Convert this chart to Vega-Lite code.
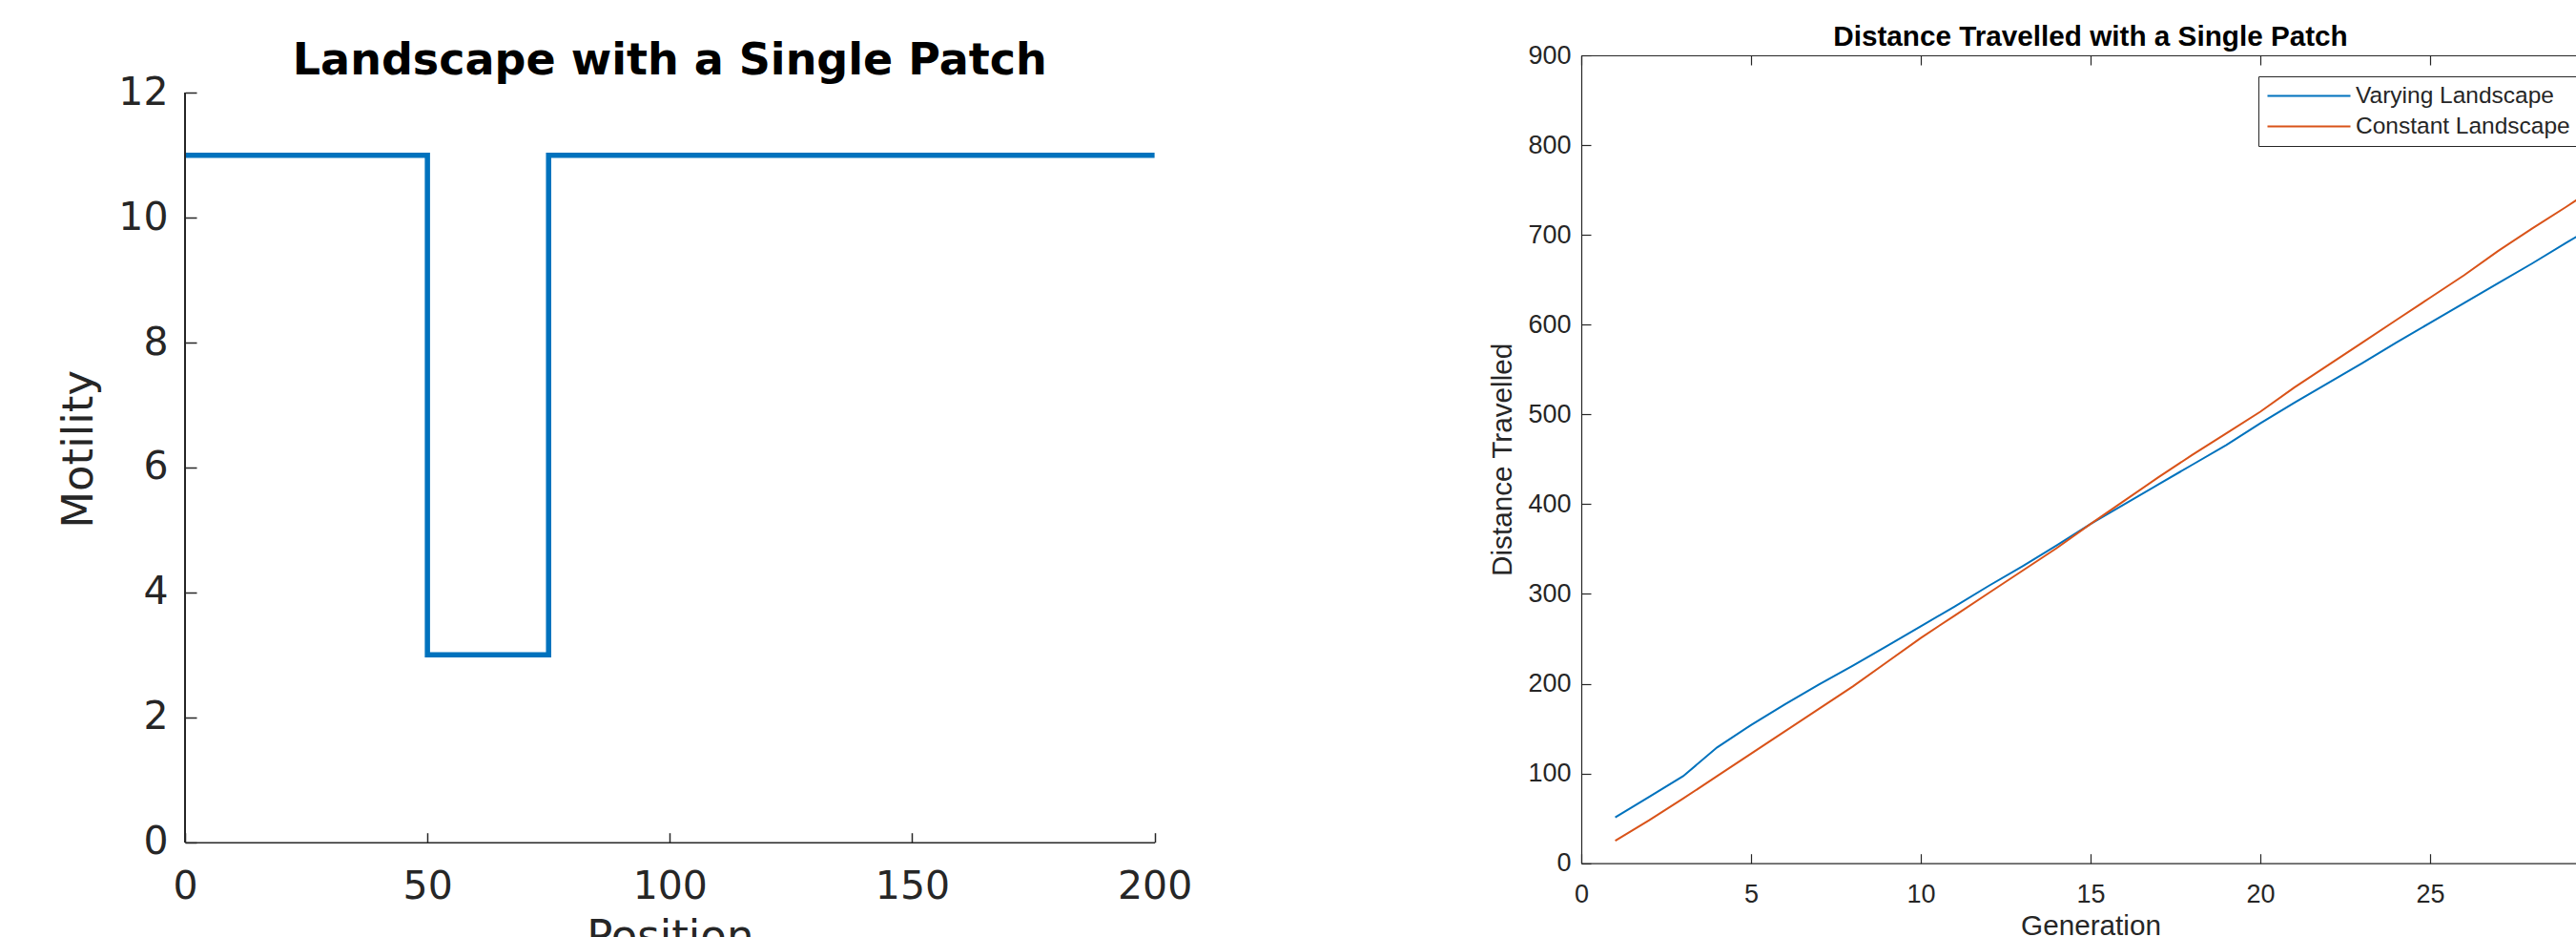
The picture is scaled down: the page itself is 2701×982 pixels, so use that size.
{
  "$schema": "https://vega.github.io/schema/vega-lite/v6.json",
  "background": "white",
  "padding": {"left": 60, "top": 24, "right": 0, "bottom": 0},
  "spacing": 310,
  "resolve": {"scale": {"color": "independent"}, "legend": {"color": "independent"}},
  "config": {
    "view": {"stroke": null},
    "axis": {"grid": false, "labelFlush": false, "labelOverlap": false}
  },
  "hconcat": [
    {
      "width": 1016.6,
      "height": 824.7,
      "title": {
        "text": "Landscape with a Single Patch",
        "font": "DejaVu Sans",
        "fontSize": 46,
        "fontWeight": "bold",
        "color": "#000000",
        "frame": "group",
        "anchor": "middle",
        "baseline": "alphabetic",
        "offset": -65.7
      },
      "data": {
        "values": [
          {"i": 0, "position": 0, "motility": 11},
          {"i": 1, "position": 50, "motility": 11},
          {"i": 2, "position": 50, "motility": 3},
          {"i": 3, "position": 75, "motility": 3},
          {"i": 4, "position": 75, "motility": 11},
          {"i": 5, "position": 200, "motility": 11}
        ]
      },
      "layer": [
        {
          "mark": {"type": "line", "color": "#0072BD", "strokeWidth": 5.5, "strokeJoin": "miter", "strokeCap": "butt"},
          "encoding": {
            "x": {
              "field": "position",
              "type": "quantitative",
              "scale": {"domain": [0, 200], "nice": false},
              "axis": {
                "orient": "bottom",
                "values": [0, 50, 100, 150, 200],
                "format": "d",
                "title": "Position",
                "tickSize": -10,
                "tickColor": "#262626",
                "tickWidth": 1.5,
                "domainColor": "#262626",
                "domainWidth": 1.5,
                "labelFont": "DejaVu Sans",
                "labelFontSize": 41,
                "labelColor": "#262626",
                "labelPadding": 36.5,
                "titleFont": "DejaVu Sans",
                "titleFontSize": 45,
                "titleFontWeight": "normal",
                "titleColor": "#262626",
                "titlePadding": 10.6
              }
            },
            "y": {
              "field": "motility",
              "type": "quantitative",
              "scale": {"domain": [0, 12.6], "nice": false},
              "axis": {
                "values": [0, 2, 4, 6, 8, 10, 12],
                "format": "d",
                "title": "Motility",
                "domain": false,
                "tickSize": -12,
                "tickColor": "#262626",
                "tickWidth": 1.5,
                "labelFont": "DejaVu Sans",
                "labelFontSize": 41,
                "labelColor": "#262626",
                "labelPadding": 30,
                "titleFont": "DejaVu Sans",
                "titleFontSize": 45,
                "titleFontWeight": "normal",
                "titleColor": "#262626",
                "titlePadding": 17.9
              }
            },
            "order": {"field": "i", "type": "quantitative"}
          }
        },
        {
          "mark": {"type": "rule", "color": "#262626", "strokeWidth": 1.5},
          "encoding": {
            "x": {
              "datum": 0,
              "type": "quantitative",
              "axis": {
                "orient": "bottom",
                "values": [0, 50, 100, 150, 200],
                "format": "d",
                "title": "Position",
                "tickSize": -10,
                "tickColor": "#262626",
                "tickWidth": 1.5,
                "domainColor": "#262626",
                "domainWidth": 1.5,
                "labelFont": "DejaVu Sans",
                "labelFontSize": 41,
                "labelColor": "#262626",
                "labelPadding": 36.5,
                "titleFont": "DejaVu Sans",
                "titleFontSize": 45,
                "titleFontWeight": "normal",
                "titleColor": "#262626",
                "titlePadding": 10.6
              }
            },
            "y": {
              "datum": 0,
              "type": "quantitative",
              "axis": {
                "values": [0, 2, 4, 6, 8, 10, 12],
                "format": "d",
                "title": "Motility",
                "domain": false,
                "tickSize": -12,
                "tickColor": "#262626",
                "tickWidth": 1.5,
                "labelFont": "DejaVu Sans",
                "labelFontSize": 41,
                "labelColor": "#262626",
                "labelPadding": 30,
                "titleFont": "DejaVu Sans",
                "titleFontSize": 45,
                "titleFontWeight": "normal",
                "titleColor": "#262626",
                "titlePadding": 17.9
              }
            },
            "y2": {"datum": 12}
          }
        }
      ]
    },
    {
      "width": 1068,
      "height": 846.7,
      "title": {
        "text": "Distance Travelled with a Single Patch",
        "font": "Liberation Sans",
        "fontSize": 29.7,
        "fontWeight": "bold",
        "color": "#000000",
        "frame": "group",
        "anchor": "middle",
        "baseline": "alphabetic",
        "offset": -34
      },
      "data": {
        "values": [
          {"generation": 1, "distance": 51, "series": "Varying Landscape"},
          {"generation": 2, "distance": 74, "series": "Varying Landscape"},
          {"generation": 3, "distance": 97, "series": "Varying Landscape"},
          {"generation": 4, "distance": 129, "series": "Varying Landscape"},
          {"generation": 5, "distance": 154, "series": "Varying Landscape"},
          {"generation": 6, "distance": 177, "series": "Varying Landscape"},
          {"generation": 7, "distance": 199, "series": "Varying Landscape"},
          {"generation": 8, "distance": 220, "series": "Varying Landscape"},
          {"generation": 9, "distance": 242, "series": "Varying Landscape"},
          {"generation": 10, "distance": 264, "series": "Varying Landscape"},
          {"generation": 11, "distance": 286, "series": "Varying Landscape"},
          {"generation": 12, "distance": 309, "series": "Varying Landscape"},
          {"generation": 13, "distance": 331, "series": "Varying Landscape"},
          {"generation": 14, "distance": 354, "series": "Varying Landscape"},
          {"generation": 15, "distance": 378, "series": "Varying Landscape"},
          {"generation": 16, "distance": 400, "series": "Varying Landscape"},
          {"generation": 17, "distance": 422, "series": "Varying Landscape"},
          {"generation": 18, "distance": 444, "series": "Varying Landscape"},
          {"generation": 19, "distance": 466, "series": "Varying Landscape"},
          {"generation": 20, "distance": 490, "series": "Varying Landscape"},
          {"generation": 21, "distance": 513, "series": "Varying Landscape"},
          {"generation": 22, "distance": 535, "series": "Varying Landscape"},
          {"generation": 23, "distance": 557, "series": "Varying Landscape"},
          {"generation": 24, "distance": 580, "series": "Varying Landscape"},
          {"generation": 25, "distance": 602, "series": "Varying Landscape"},
          {"generation": 26, "distance": 624, "series": "Varying Landscape"},
          {"generation": 27, "distance": 646, "series": "Varying Landscape"},
          {"generation": 28, "distance": 668, "series": "Varying Landscape"},
          {"generation": 29, "distance": 691, "series": "Varying Landscape"},
          {"generation": 30, "distance": 713, "series": "Varying Landscape"},
          {"generation": 1, "distance": 25, "series": "Constant Landscape"},
          {"generation": 2, "distance": 48, "series": "Constant Landscape"},
          {"generation": 3, "distance": 72, "series": "Constant Landscape"},
          {"generation": 4, "distance": 97, "series": "Constant Landscape"},
          {"generation": 5, "distance": 122, "series": "Constant Landscape"},
          {"generation": 6, "distance": 147, "series": "Constant Landscape"},
          {"generation": 7, "distance": 172, "series": "Constant Landscape"},
          {"generation": 8, "distance": 197, "series": "Constant Landscape"},
          {"generation": 9, "distance": 224, "series": "Constant Landscape"},
          {"generation": 10, "distance": 251, "series": "Constant Landscape"},
          {"generation": 11, "distance": 276, "series": "Constant Landscape"},
          {"generation": 12, "distance": 301, "series": "Constant Landscape"},
          {"generation": 13, "distance": 326, "series": "Constant Landscape"},
          {"generation": 14, "distance": 351, "series": "Constant Landscape"},
          {"generation": 15, "distance": 378, "series": "Constant Landscape"},
          {"generation": 16, "distance": 404, "series": "Constant Landscape"},
          {"generation": 17, "distance": 430, "series": "Constant Landscape"},
          {"generation": 18, "distance": 455, "series": "Constant Landscape"},
          {"generation": 19, "distance": 479, "series": "Constant Landscape"},
          {"generation": 20, "distance": 503, "series": "Constant Landscape"},
          {"generation": 21, "distance": 530, "series": "Constant Landscape"},
          {"generation": 22, "distance": 555, "series": "Constant Landscape"},
          {"generation": 23, "distance": 580, "series": "Constant Landscape"},
          {"generation": 24, "distance": 605, "series": "Constant Landscape"},
          {"generation": 25, "distance": 630, "series": "Constant Landscape"},
          {"generation": 26, "distance": 655, "series": "Constant Landscape"},
          {"generation": 27, "distance": 682, "series": "Constant Landscape"},
          {"generation": 28, "distance": 707, "series": "Constant Landscape"},
          {"generation": 29, "distance": 731, "series": "Constant Landscape"},
          {"generation": 30, "distance": 756, "series": "Constant Landscape"}
        ]
      },
      "layer": [
        {
          "mark": {"type": "line", "strokeWidth": 2},
          "encoding": {
            "x": {
              "field": "generation",
              "type": "quantitative",
              "scale": {"domain": [0, 30], "nice": false},
              "axis": {
                "orient": "bottom",
                "values": [0, 5, 10, 15, 20, 25],
                "title": "Generation",
                "tickSize": -10,
                "tickColor": "#262626",
                "tickWidth": 1.2,
                "domainColor": "#262626",
                "domainWidth": 1.2,
                "labelFont": "Liberation Sans",
                "labelFontSize": 27,
                "labelColor": "#262626",
                "labelPadding": 29.7,
                "titleFont": "Liberation Sans",
                "titleFontSize": 29.7,
                "titleFontWeight": "normal",
                "titleColor": "#262626",
                "titlePadding": 5.6
              }
            },
            "y": {
              "field": "distance",
              "type": "quantitative",
              "scale": {"domain": [0, 900], "nice": false},
              "axis": {
                "values": [0, 100, 200, 300, 400, 500, 600, 700, 800, 900],
                "title": "Distance Travelled",
                "tickSize": -10,
                "tickColor": "#262626",
                "tickWidth": 1.2,
                "domainColor": "#262626",
                "domainWidth": 1.2,
                "labelFont": "Liberation Sans",
                "labelFontSize": 27,
                "labelColor": "#262626",
                "labelPadding": 21,
                "titleFont": "Liberation Sans",
                "titleFontSize": 29.7,
                "titleFontWeight": "normal",
                "titleColor": "#262626",
                "titlePadding": 11.2
              }
            },
            "color": {
              "field": "series",
              "type": "nominal",
              "scale": {"domain": ["Varying Landscape", "Constant Landscape"], "range": ["#0072BD", "#D95319"]},
              "legend": {
                "title": null,
                "orient": "top-right",
                "offset": 21.7,
                "padding": 8.5,
                "rowPadding": 7,
                "clipHeight": 24,
                "symbolType": "stroke",
                "symbolSize": 7569,
                "symbolStrokeWidth": 2,
                "labelOffset": 4.5,
                "labelFont": "Liberation Sans",
                "labelFontSize": 24.5,
                "labelColor": "#262626",
                "labelLimit": 500,
                "strokeColor": "#262626",
                "fillColor": "#ffffff",
                "cornerRadius": 0
              }
            }
          }
        },
        {
          "mark": {"type": "point", "opacity": 0},
          "encoding": {
            "x": {
              "field": "generation",
              "type": "quantitative",
              "axis": {
                "orient": "top",
                "values": [0, 5, 10, 15, 20, 25, 30],
                "labels": false,
                "title": null,
                "tickSize": -10,
                "tickColor": "#262626",
                "tickWidth": 1.2,
                "domainColor": "#262626",
                "domainWidth": 1.2
              }
            }
          }
        }
      ],
      "resolve": {"axis": {"x": "independent"}}
    }
  ]
}
